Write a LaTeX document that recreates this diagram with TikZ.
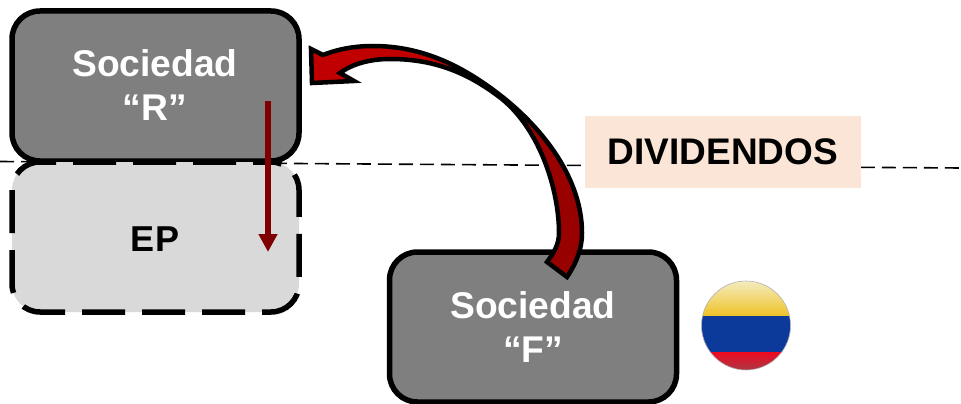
\documentclass[tikz,border=0pt]{standalone}
\usepackage{fontspec}
\setmainfont{Liberation Sans}
\usetikzlibrary{arrows.meta}
\definecolor{boxgray}{HTML}{7F7F7F}
\definecolor{epgray}{HTML}{D9D9D9}
\definecolor{peach}{HTML}{FBE5D6}
\definecolor{darkred}{HTML}{7F0000}
\definecolor{redA}{HTML}{C00000}
\definecolor{redB}{HTML}{990000}
\definecolor{flagY1}{HTML}{F3ECC0}
\definecolor{flagY2}{HTML}{FFD83A}
\definecolor{flagY3}{HTML}{EFC226}
\definecolor{flagB}{HTML}{0B3A9A}
\definecolor{flagR1}{HTML}{EE0A20}
\definecolor{flagR2}{HTML}{A83A48}
\tikzset{
  socbox/.style={draw=black,line width=5.5pt,fill=boxgray,rounded corners=28pt,minimum width=287pt,minimum height=150pt,inner sep=0pt},
  epbox/.style={draw=black,line width=5.5pt,fill=epgray,rounded corners=28pt,minimum width=287pt,minimum height=150pt,inner sep=0pt,dash pattern=on 43pt off 17pt,dash phase=25pt},
  soctext/.style={text=white,font=\fontsize{37.2}{44}\selectfont\bfseries,align=center,inner sep=0pt},
  blacktext/.style={text=black,font=\fontsize{36}{42}\selectfont\bfseries,inner sep=0pt},
  divline/.style={line width=1.6pt,black,dash pattern=on 14pt off 7pt},
  downarrow/.style={line width=5.5pt,darkred,-{Triangle[length=18pt,width=18pt]}},
  curveline/.style={line width=4.5pt,black,line join=miter},
}
\newcommand{\curvepath}{(567,277) .. controls (577,262) and (582,248) .. (582,233) .. controls (582,180) and (545,130) .. (500,95) .. controls (460,64) and (420,46) .. (373,46) .. controls (355,46) and (338,49) .. (323,55) -- (311,49) -- (312,83) -- (354,81) -- (340,73) .. controls (352,64) and (370,59) .. (390,59) .. controls (430,59) and (465,70) .. (502,99) .. controls (540,130) and (559,190) .. (559,233) .. controls (559,245) and (553,254) .. (547,262) -- cycle}
\begin{document}
\begin{tikzpicture}[x=1pt,y=-1pt]
\useasboundingbox (0,0) rectangle (961,404);
\coordinate (lineL) at (0,161.5);
\coordinate (lineR) at (961,168);
\draw[divline] (lineL) -- (lineR);
\node[socbox] (R) at (155.5,86) {};
\node[epbox] (EP) at (155.5,237) {};
\node[socbox] (F) at (533,327) {};
\node[soctext] (Rt) at (155,85) {Sociedad\\“R”};
\node[soctext] (Ft) at (533,327.5) {Sociedad\\“F”};
\node[blacktext] (EPt) at (155,239) {EP};
\node[fill=peach,minimum width=276pt,minimum height=72pt,inner sep=0pt,text=black,font=\fontsize{37}{44}\selectfont\bfseries] (div) at (723,152) {DIVIDENDOS};
\coordinate (a1) at (268,101);
\coordinate (a2) at (268,252);
\draw[downarrow] (a1) -- (a2);
% curved arrow
\begin{scope}
\clip (300,0) rectangle (500,300);
\fill[redA] \curvepath;
\end{scope}
\begin{scope}
\clip (500,0) rectangle (700,300);
\fill[redB] \curvepath;
\end{scope}
\draw[curveline] \curvepath;
% flag
\begin{scope}
\clip (746,325.5) circle (44.5);
\shade[top color=flagY1,middle color=flagY2,bottom color=flagY3] (700,281) rectangle (792,316);
\fill[flagB] (700,316) rectangle (792,352);
\shade[top color=flagR1,bottom color=flagR2] (700,352) rectangle (792,371);
\end{scope}
\node[circle,draw=gray!60,line width=.6pt,minimum size=89pt,inner sep=0pt] (flag) at (746,325.5) {};
\end{tikzpicture}
\end{document}
